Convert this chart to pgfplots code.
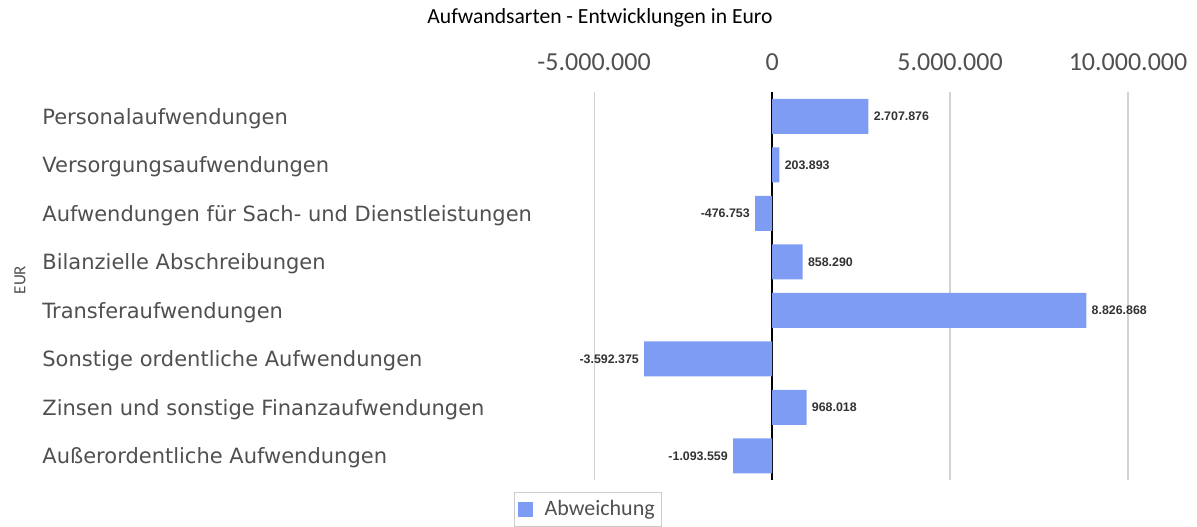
\documentclass[border=0pt]{standalone}
\usepackage{fontspec}
\setmainfont{Carlito}
\newfontfamily\catfont{DejaVu Sans}
\newfontfamily\lblfont{Liberation Sans}
\usepackage{pgfplots}
\pgfplotsset{compat=1.18}
\definecolor{barblue}{HTML}{7F9CF5}
\definecolor{txt}{HTML}{505050}

\begin{document}
\begin{tikzpicture}
% 1 px of the reference = 0.5pt
\useasboundingbox (0,0) rectangle (598.5pt,263pt);
\node[font=\fontsize{10.8}{12}\selectfont, text=black] at (300pt,254pt) {Aufwandsarten - Entwicklungen in Euro};
\node[font=\fontsize{8.5}{10}\selectfont, text=txt, rotate=90] at (10pt,123pt) {EUR};
\begin{axis}[
    at={(272.5pt,23pt)}, anchor=south west,
    width=317.5pt, height=194pt, scale only axis,
    xbar, bar width=17.5pt, bar shift=0pt,
    y dir=reverse,
    xmin=-6380000, xmax=11460000,
    ymin=-0.5, ymax=7.5,
    axis line style={draw=none},
    major tick length=0pt,
    xticklabel pos=top,
    xtick={-5000000,5000000,10000000},
    xticklabels={-5.000.000,5.000.000,10.000.000},
    extra x ticks={0},
    extra x tick labels={0},
    extra x tick style={grid style={black, line width=0.6pt}},
    scaled x ticks=false,
    xmajorgrids,
    grid style={gray!35, line width=0.6pt},
    xticklabel style={font=\fontsize{13}{15}\selectfont, text=txt, yshift=7pt},
    ytick={0,...,7},
    yticklabels={Personalaufwendungen, Versorgungsaufwendungen,
        Aufwendungen für Sach- und Dienstleistungen, Bilanzielle Abschreibungen,
        Transferaufwendungen, Sonstige ordentliche Aufwendungen,
        Zinsen und sonstige Finanzaufwendungen, Außerordentliche Aufwendungen},
    yticklabel style={font=\catfont\fontsize{10.5}{12}\selectfont, text=txt,
        anchor=west, inner sep=0pt, xshift=-251.5pt, yshift=-1pt},
    nodes near coords,
    point meta=explicit symbolic,
    every node near coord/.append style={font=\lblfont\bfseries\fontsize{6.2}{8}\selectfont, text=black!80, inner sep=2.5pt},
    legend style={at={(axis description cs:0.068,-0.031)}, anchor=north,
        draw=gray!40, font=\fontsize{11}{13}\selectfont, text=txt,
        inner xsep=1.5pt, inner ysep=2pt,
        /tikz/every odd column/.append style={column sep=4pt}},
    legend image code/.code={\fill[#1] (0pt,-3.75pt) rectangle (7.5pt,3.75pt);},
]
\addplot[fill=barblue, draw=none,
    every node near coord/.append style={anchor=west}] coordinates {
    (2707876,0) [2.707.876]
    (203893,1) [203.893]
    (858290,3) [858.290]
    (8826868,4) [8.826.868]
    (968018,6) [968.018]
};
\addlegendentry{Abweichung}
\addplot[fill=barblue, draw=none, forget plot,
    every node near coord/.append style={anchor=east}] coordinates {
    (-476753,2) [-476.753]
    (-3592375,5) [-3.592.375]
    (-1093559,7) [-1.093.559]
};
\end{axis}
\end{tikzpicture}
\end{document}
